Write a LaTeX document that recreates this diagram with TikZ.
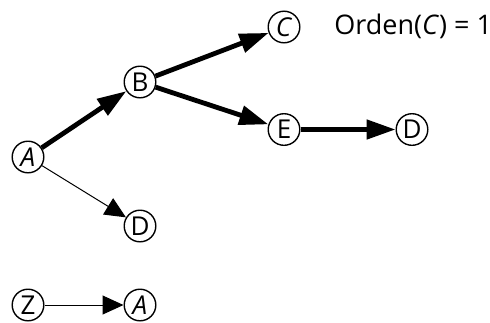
\documentclass[tikz,border=0pt]{standalone}
\usepackage{fontspec}
\setmainfont{Open Sans}
\usetikzlibrary{arrows.meta,positioning}

\begin{document}
\begin{tikzpicture}[
  x=0.5pt,y=-0.5pt,
  vert/.style={circle,draw,line width=0.7pt,minimum size=15.8pt,inner sep=0pt,font=\fontsize{13}{15}\selectfont},
  heavy/.style={-{Triangle[length=14.5pt,width=9.5pt]},line width=2.4pt},
  light/.style={-{Triangle[length=10.5pt,width=9.5pt]},line width=0.5pt}
]
\useasboundingbox (0,0) rectangle (490,322);
% tree rooted at A
\node[vert] (a) at (28,157) {\textit{A}};
\node[vert] (b) at (140,82) {B};
\node[vert] (c) at (284,27) {\textit{C}};
\node[vert] (e) at (284,129.5) {E};
\node[vert] (dr) at (412,129.5) {D};
\node[vert] (dl) at (140,226) {D};
% separate pair
\node[vert] (z) at (28,305) {Z};
\node[vert] (a2) at (140,305) {\textit{A}};
\node[anchor=west,inner sep=0pt,font=\fontsize{13.5}{15}\selectfont] (ord) at (334,26) {Orden(\textit{C}) = 1};
\draw[heavy] (a) -- (b);
\draw[heavy] (b) -- (c);
\draw[heavy] (b) -- (e);
\draw[heavy] (e) -- (dr);
\draw[light] (a) -- (dl);
\draw[light] (z) -- (a2);
\end{tikzpicture}
\end{document}
